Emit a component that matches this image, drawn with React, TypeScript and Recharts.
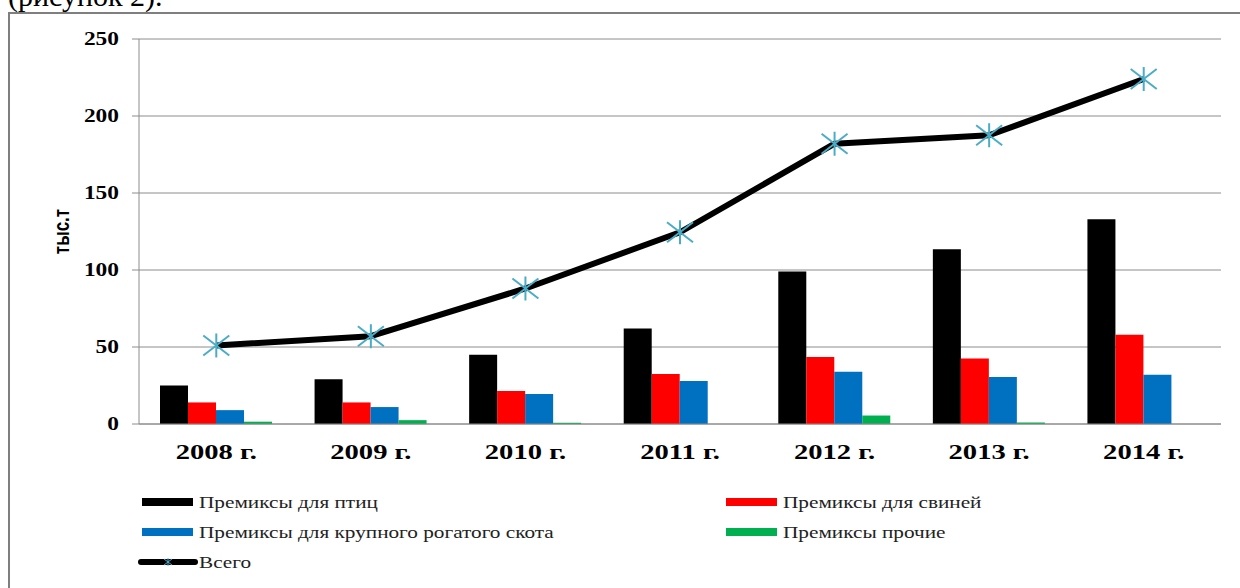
import { Bar, CartesianGrid, ComposedChart, Label, Legend, Line, XAxis, YAxis } from "recharts";

const years = ["2008 г.", "2009 г.", "2010 г.", "2011 г.", "2012 г.", "2013 г.", "2014 г."];
const poultry = [25, 29, 45, 62, 99, 113.5, 133];
const pigs = [14, 14, 21.5, 32.5, 43.5, 42.5, 58];
const cattle = [9, 11, 19.5, 28, 34, 30.5, 32];
const other = [1.5, 2.5, 0.8, 0, 5.5, 1, 0];
const total = [51, 57, 88, 124.5, 182, 187.5, 224];
const yTicks = [0, 50, 100, 150, 200, 250];

const names = {
  poultry: "Премиксы для птиц",
  pigs: "Премиксы для свиней",
  cattle: "Премиксы для крупного рогатого скота",
  other: "Премиксы прочие",
  total: "Всего",
};

const colors = {
  poultry: "#000000",
  pigs: "#ff0000",
  cattle: "#0070c0",
  other: "#00b050",
  total: "#000000",
  star: "#4bacc6",
  grid: "#8c8c8c",
};

const serif = '"Liberation Serif", "Times New Roman", serif';
const sans = '"Liberation Sans", Arial, sans-serif';
// the source picture is stretched sideways, so its letters are wider than they are tall
const stretch = 1.3;

const data = years.map((year, i) => ({
  year,
  poultry: poultry[i],
  pigs: pigs[i],
  cattle: cattle[i],
  other: other[i],
  total: total[i],
}));

// tick marks of the category axis sit between the groups, not under them
const boundaries = years.map((_, i) => i).concat(years.length);

function Asterisk(props: any) {
  const { cx, cy, index } = props;
  if (cx == null || cy == null) return null;
  return (
    <g key={`star-${index}`} stroke={colors.star} strokeWidth={2}>
      <line x1={cx} y1={cy - 12} x2={cx} y2={cy + 12} />
      <line x1={cx - 13} y1={cy - 10} x2={cx + 13} y2={cy + 10} />
      <line x1={cx - 13} y1={cy + 10} x2={cx + 13} y2={cy - 10} />
    </g>
  );
}

function YearTick(props: any) {
  const { x, y, payload } = props;
  return (
    <g transform={`translate(${x},${y}) scale(${stretch},1)`}>
      <text textAnchor="middle" dy="0.71em" fontFamily={serif} fontSize={22} fontWeight={700} fill="#000">
        {payload.value}
      </text>
    </g>
  );
}

function ValueTick(props: any) {
  const { x, y, payload } = props;
  return (
    <g transform={`translate(${x},${y}) scale(${stretch},1)`}>
      <text textAnchor="end" dy="0.355em" fontFamily={serif} fontSize={18} fontWeight={700} fill="#000">
        {payload.value}
      </text>
    </g>
  );
}

function UnitLabel(props: any) {
  const vb = props.viewBox || { x: 0, y: 0, width: 0, height: 0 };
  const cx = vb.x + vb.width / 2 - 8;
  const cy = vb.y + vb.height / 2;
  return (
    <g transform={`translate(${cx},${cy}) scale(${stretch},1) rotate(-90)`}>
      <text textAnchor="middle" dy="0.355em" fontFamily={sans} fontSize={17} fontWeight={700} fill="#000">
        тыс.т
      </text>
    </g>
  );
}

function LegendText({ x, y, children }: { x: number; y: number; children: string }) {
  return (
    <g transform={`translate(${x},${y}) scale(1.25,1)`}>
      <text fontFamily={serif} fontSize={17} fill="#222">
        {children}
      </text>
    </g>
  );
}

function ChartLegend() {
  const rows: Array<{ key: keyof typeof names; x: number; y: number }> = [
    { key: "poultry", x: 142, y: 16 },
    { key: "pigs", x: 726, y: 16 },
    { key: "cattle", x: 142, y: 46 },
    { key: "other", x: 726, y: 46 },
  ];
  return (
    <svg width={1240} height={94} style={{ display: "block" }}>
      {rows.map((r) => (
        <g key={r.key}>
          <rect x={r.x} y={r.y - 4} width={51} height={8} fill={colors[r.key]} />
          <LegendText x={r.x + 57} y={r.y + 6}>
            {names[r.key]}
          </LegendText>
        </g>
      ))}
      <line x1={141} y1={76} x2={195} y2={76} stroke="#000" strokeWidth={6} strokeLinecap="round" />
      <g stroke={colors.star} strokeWidth={1}>
        <line x1={168} y1={72} x2={168} y2={80} />
        <line x1={164} y1={73} x2={172} y2={79} />
        <line x1={164} y1={79} x2={172} y2={73} />
      </g>
      <LegendText x={199} y={82}>
        {names.total}
      </LegendText>
    </svg>
  );
}

export default function App() {
  return (
    <div
      style={{
        position: "fixed",
        left: 0,
        top: 0,
        width: 1240,
        height: 588,
        overflow: "hidden",
        background: "#fff",
      }}
    >
      <div
        style={{
          position: "absolute",
          left: 8,
          top: -19,
          fontFamily: serif,
          fontSize: 30,
          lineHeight: "30px",
          color: "#000",
          whiteSpace: "nowrap",
        }}
      >
        (рисунок 2).
      </div>
      <div
        style={{
          position: "absolute",
          left: 8,
          top: 12,
          width: 1300,
          height: 700,
          border: "2px solid #7f7f7f",
        }}
      />
      <div style={{ position: "absolute", left: 0, top: 0 }}>
        <ComposedChart
          width={1240}
          height={588}
          data={data}
          margin={{ top: 39, right: 19, left: 0, bottom: 8 }}
          barCategoryGap={21}
          barGap={0}
        >
          <CartesianGrid vertical={false} stroke={colors.grid} />
          <XAxis
            xAxisId="bounds"
            type="number"
            dataKey={(_: any, i: number) => i}
            domain={[0, years.length]}
            ticks={boundaries}
            tick={false}
            axisLine={false}
            tickLine={{ stroke: colors.grid }}
            tickSize={7}
            height={0}
            allowDataOverflow
          />
          <XAxis
            dataKey="year"
            height={62}
            axisLine={{ stroke: colors.grid }}
            tickLine={false}
            tickSize={0}
            tickMargin={19}
            interval={0}
            tick={<YearTick />}
          />
          <YAxis
            width={139}
            domain={[0, 250]}
            ticks={yTicks}
            interval={0}
            axisLine={{ stroke: colors.grid }}
            tickLine={{ stroke: colors.grid }}
            tickSize={7}
            tickMargin={13}
            tick={<ValueTick />}
          >
            <Label content={<UnitLabel />} position="center" />
          </YAxis>
          <Bar dataKey="poultry" name={names.poultry} fill={colors.poultry} isAnimationActive={false} />
          <Bar dataKey="pigs" name={names.pigs} fill={colors.pigs} isAnimationActive={false} />
          <Bar dataKey="cattle" name={names.cattle} fill={colors.cattle} isAnimationActive={false} />
          <Bar dataKey="other" name={names.other} fill={colors.other} isAnimationActive={false} />
          <Line
            dataKey="total"
            name={names.total}
            stroke={colors.total}
            strokeWidth={6}
            strokeLinejoin="round"
            dot={<Asterisk />}
            activeDot={false}
            isAnimationActive={false}
          />
          <Legend
            verticalAlign="bottom"
            content={<ChartLegend />}
            wrapperStyle={{ left: 0, width: 1240, height: 94 }}
          />
        </ComposedChart>
      </div>
    </div>
  );
}
